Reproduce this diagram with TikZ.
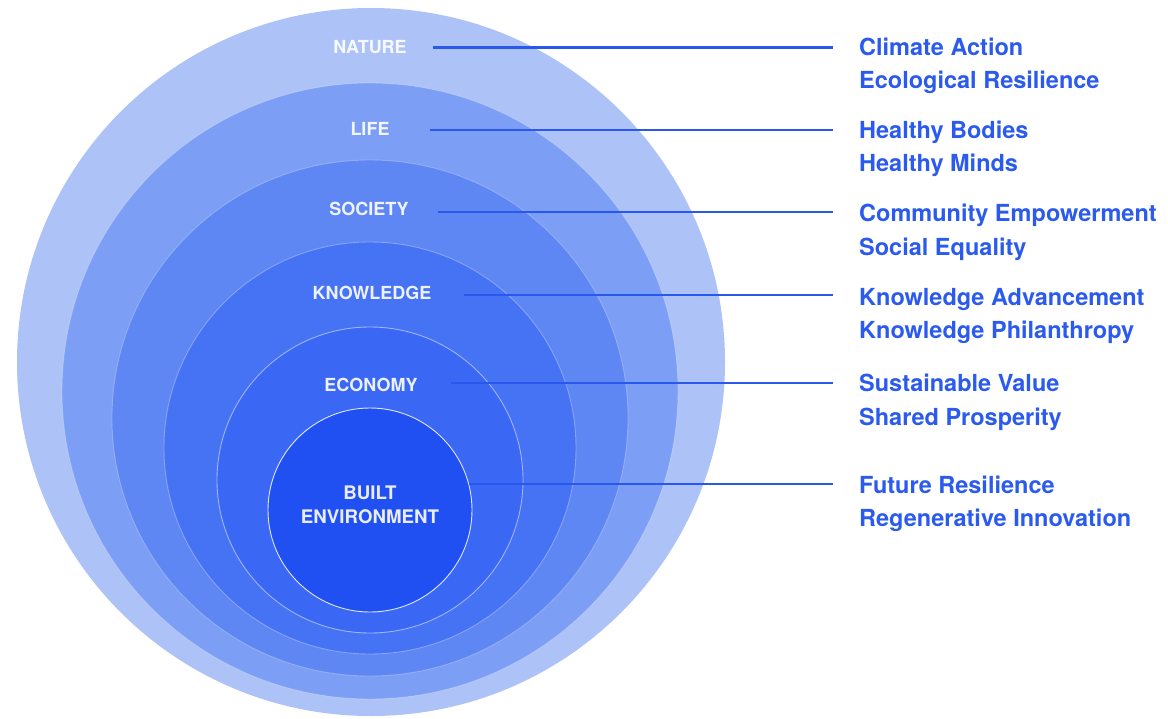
\documentclass[tikz,border=0pt]{standalone}
\usepackage{fontspec}
\setmainfont{TeX Gyre Heros}
\definecolor{cNat}{HTML}{ADC2F7}
\definecolor{cLife}{HTML}{7C9EF4}
\definecolor{cSoc}{HTML}{5F87F3}
\definecolor{cKnow}{HTML}{4673F4}
\definecolor{cEco}{HTML}{3A67F4}
\definecolor{cBuilt}{HTML}{2050F2}
\definecolor{cText}{HTML}{2B5AEE}
\definecolor{cLine}{HTML}{2A58EC}
\tikzset{
  ring/.style={circle, inner sep=0pt, draw=white, line width=0.9pt},
  lbl/.style={text=white, text opacity=0.9, inner sep=0pt, font=\fontsize{18}{22}\selectfont\bfseries, align=center},
  rt/.style={text=cText, inner sep=0pt, anchor=base west, font=\fontsize{23.5}{28}\selectfont\bfseries},
  conn/.style={draw=cLine, line width=2.2pt}
}
\begin{document}
\begin{tikzpicture}[x=1pt,y=-1pt]
\useasboundingbox (0,0) rectangle (1168,718);
\fill[white] (0,0) rectangle (1168,718);
% circles
\node[ring, fill=cNat, draw opacity=0, minimum size=708pt] (nature) at (371,362) {};
\node[ring, fill=cLife, draw opacity=0.25, minimum size=616pt] (life) at (370,391) {};
\node[ring, fill=cSoc, draw opacity=0.25, minimum size=516pt] (society) at (370,418) {};
\node[ring, fill=cKnow, draw opacity=0.3, minimum size=412pt] (knowledge) at (370,448) {};
\node[ring, fill=cEco, draw opacity=0.5, minimum size=306pt] (economy) at (370,480) {};
\node[ring, fill=cBuilt, draw opacity=0.85, minimum size=204pt] (built) at (370,510) {};
% labels
\node[lbl] (natL) at (370,47) {NATURE};
\node[lbl] (lifeL) at (370,129) {LIFE};
\node[lbl] (socL) at (369,209) {SOCIETY};
\node[lbl] (knowL) at (372,293) {KNOWLEDGE};
\node[lbl, font=\fontsize{18.7}{23.5}\selectfont\bfseries] (builtL) at (370,505) {BUILT\\ENVIRONMENT};
\node[lbl] (ecoL) at (371,385) {ECONOMY};
% right texts
\node[rt] (natR) at (859,55.4) {Climate Action};
\node[rt] (natR2) at (859,88.4) {Ecological Resilience};
\node[rt] (lifeR) at (859,138.4) {Healthy Bodies};
\node[rt] (lifeR2) at (859,171.4) {Healthy Minds};
\node[rt] (socR) at (859,221.4) {Community Empowerment};
\node[rt] (socR2) at (859,255.4) {Social Equality};
\node[rt] (knowR) at (859,305.4) {Knowledge Advancement};
\node[rt] (knowR2) at (859,338.4) {Knowledge Philanthropy};
\node[rt] (ecoR) at (859,391.4) {Sustainable Value};
\node[rt] (ecoR2) at (859,425.4) {Shared Prosperity};
\node[rt] (builtR) at (859,493.4) {Future Resilience};
\node[rt] (builtR2) at (859,526.4) {Regenerative Innovation};
% connector start and end points
\coordinate (natS) at (433,47.5);
\coordinate (lifeS) at (430,130);
\coordinate (socS) at (438,212);
\coordinate (knowS) at (464,295);
\coordinate (ecoS) at (451,383);
\coordinate (builtS) at (469,484);
\coordinate (natE) at ([xshift=-26pt]natR.west);
\coordinate (lifeE) at ([xshift=-26pt]lifeR.west);
\coordinate (socE) at ([xshift=-26pt]socR.west);
\coordinate (knowE) at ([xshift=-26pt]knowR.west);
\coordinate (ecoE) at ([xshift=-26pt]ecoR.west);
\coordinate (builtE) at ([xshift=-26pt]builtR.west);
% connectors
\draw[conn] (natS) -- (natS -| natE);
\draw[conn] (lifeS) -- (lifeS -| lifeE);
\draw[conn] (socS) -- (socS -| socE);
\draw[conn] (knowS) -- (knowS -| knowE);
\draw[conn] (ecoS) -- (ecoS -| ecoE);
\draw[conn] (builtS) -- (builtS -| builtE);
\end{tikzpicture}
\end{document}
